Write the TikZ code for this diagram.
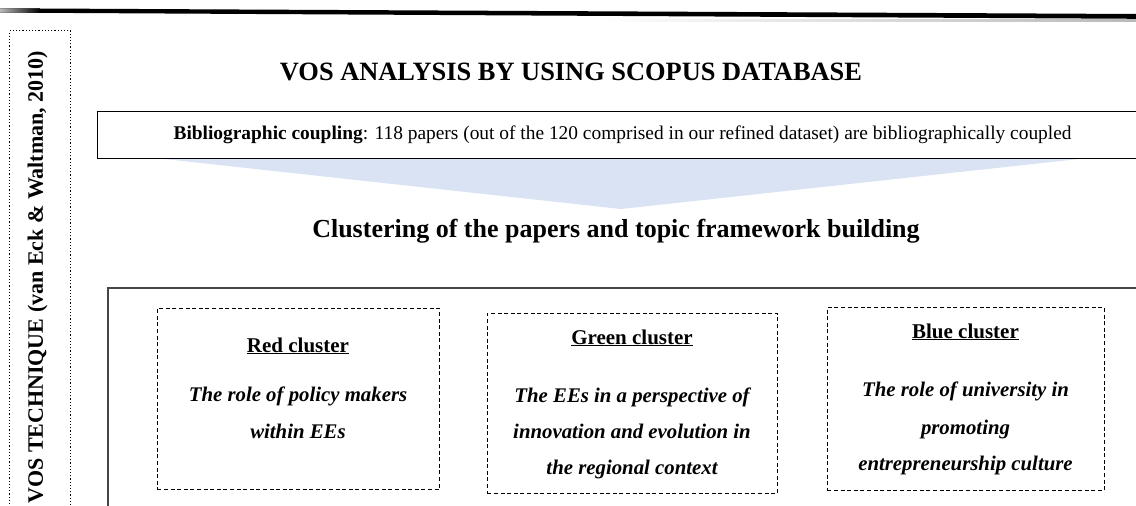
\documentclass[tikz,border=0pt]{standalone}
\usepackage{fontspec}
\setmainfont{Liberation Serif}
\definecolor{wedgeblue}{RGB}{218,227,243}
\definecolor{framegray}{RGB}{70,70,70}
\begin{document}
\begin{tikzpicture}[x=1pt,y=-1pt,
  headline/.style={font=\fontsize{26.4}{30}\selectfont\bfseries, inner sep=0pt, anchor=base},
  bigtitle/.style={font=\fontsize{26}{30}\selectfont\bfseries, inner sep=0pt, anchor=base},
  sidelabel/.style={font=\fontsize{22}{26}\selectfont\bfseries, inner sep=0pt, rotate=90},
  bibbox/.style={draw, line width=1.1pt, anchor=north west, inner sep=0pt,
    font=\fontsize{19.4}{22}\selectfont},
  clbox/.style={draw, line width=0.9pt, dash pattern=on 4pt off 2.6pt,
    anchor=north west, inner sep=0pt},
  clhead/.style={font=\fontsize{21}{24}\selectfont\bfseries, inner sep=0pt, anchor=base},
  clbody/.style={font=\fontsize{20.8}{24}\selectfont\bfseries\itshape, inner sep=0pt, anchor=base}
]
\useasboundingbox (0,0) rectangle (1136,506);
\clip (0,0) rectangle (1136,506);

% heavy rule across the top, with its faint shadow
\shade[left color=white, right color=gray!55] (600,19) rectangle (1136,21.8);
\fill[black] (0,8.3) -- (1136,14) -- (1136,18.8) -- (0,12.6) -- cycle;
\shade[left color=gray!55, right color=black] (0,8.3) -- (40,8.5) -- (40,12.8) -- (0,12.6) -- cycle;

% side label in a dotted frame
\node[draw, dotted, line width=1.2pt, anchor=north west,
  minimum width=61pt, minimum height=500pt] (side) at (9,30) {};
\node[sidelabel] (sidetext) at (37.5,277) {VOS TECHNIQUE (van Eck \& Waltman, 2010)};

% first heading
\node[headline] (title) at (571,80) {VOS ANALYSIS BY USING SCOPUS DATABASE};

% funnel below the coupling box
\coordinate (fl) at (155,158);
\coordinate (fr) at (1088,158);
\coordinate (ftip) at (621,209);
\fill[wedgeblue] (fl) -- (fr) -- (ftip) -- cycle;

% coupling box
\node[bibbox, minimum width=1050pt, minimum height=47pt] (bib) at (97,110.5)
  {\textbf{Bibliographic coupling}: 118 papers (out of the 120 comprised in our refined dataset) are bibliographically coupled};

% second heading
\node[bigtitle] (clust) at (616,237) {Clustering of the papers and topic framework building};

% outer frame holding the three clusters
\node[draw=framegray, line width=1.5pt, anchor=north west,
  minimum width=1060pt, minimum height=260pt] (frame) at (107,287) {};

% red cluster
\node[clbox, minimum width=282pt, minimum height=181pt] (red) at (157,308) {};
\node[clhead] (redh) at (298,352) {\underline{Red cluster}};
\node[clbody] (red1) at (298,401.5) {The role of policy makers};
\node[clbody] (red2) at (298,438) {within EEs};

% green cluster
\node[clbox, minimum width=290pt, minimum height=180pt] (green) at (487,313) {};
\node[clhead] (greenh) at (632,344) {\underline{Green cluster}};
\node[clbody] (green1) at (632,402.5) {The EEs in a perspective of};
\node[clbody] (green2) at (632,438) {innovation and evolution in};
\node[clbody] (green3) at (632,474) {the regional context};

% blue cluster
\node[clbox, minimum width=277pt, minimum height=183pt] (blue) at (827,307) {};
\node[clhead] (blueh) at (965.5,338) {\underline{Blue cluster}};
\node[clbody] (blue1) at (965.5,396) {The role of university in};
\node[clbody] (blue2) at (965.5,434) {promoting};
\node[clbody] (blue3) at (965.5,470) {entrepreneurship culture};
\end{tikzpicture}
\end{document}
